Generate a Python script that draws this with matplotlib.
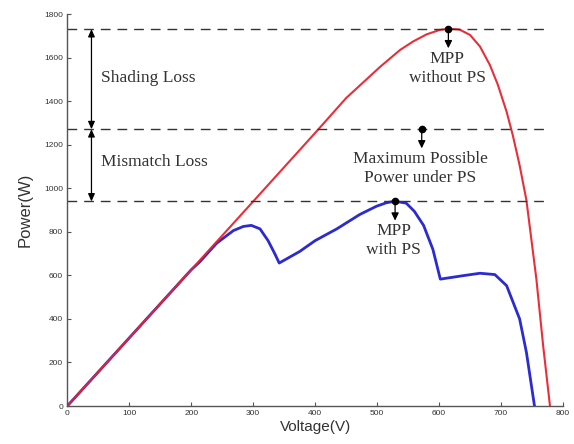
import matplotlib
matplotlib.use("Agg")
import matplotlib.pyplot as plt

# Data
red_v = [0, 100, 200, 300, 400, 450, 505, 537, 558, 580, 601, 615, 633, 650, 666, 682, 695, 709, 719, 730,
         741, 757, 768, 779]
red_p = [0, 313, 626, 940, 1255, 1415, 1559, 1636, 1675, 1708, 1728, 1734, 1730, 1705, 1652, 1567, 1475, 1352,
         1244, 1106, 945, 584, 276, 0]

blue_v = [0, 100, 200, 214, 241, 268, 284, 297, 311, 324, 335, 342, 375, 400, 435, 472, 499, 515, 529, 547,
          560, 575, 590, 602, 639, 666, 690, 709, 730, 741, 754]
blue_p = [0, 313, 626, 663, 748, 806, 825, 830, 814, 760, 699, 657, 710, 760, 814, 880, 918, 934, 941, 932,
          895, 830, 720, 583, 599, 610, 604, 553, 400, 246, 0]

level_mpp = 1732
level_possible = 1272
level_ps = 940
level_ends = [776, 770, 770]

points_v = [615, 572, 529]
points_p = [level_mpp, level_possible, level_ps]
point_labels = ["MPP\nwithout PS", "Maximum Possible\nPower under PS", "MPP\nwith PS"]

loss_labels = ["Shading Loss", "Mismatch Loss"]

fig = plt.figure(figsize=(5.74, 4.44), dpi=100)
ax = fig.add_axes([67.3 / 574, 38 / 444, (563 - 67.3) / 574, (406.7 - 15) / 444])

ax.plot(blue_v, blue_p, color="#2b2bd2", lw=2.0, solid_joinstyle="round", solid_capstyle="round")
ax.plot(red_v, red_p, color="#e8232f", lw=1.5, solid_joinstyle="round", alpha=0.95)

for lvl, end in zip([level_mpp, level_possible, level_ps], level_ends):
    ax.plot([0, end], [lvl, lvl], color="#333333", lw=1.0, dashes=(7, 5))

# double arrows for losses
arrow_v = 39
for (top, bot) in [(level_mpp, level_possible), (level_possible, level_ps)]:
    ax.annotate("", xy=(arrow_v, bot), xytext=(arrow_v, top),
                arrowprops=dict(arrowstyle="<|-|>,head_length=0.45,head_width=0.2",
                                color="black", lw=0.9, shrinkA=0, shrinkB=0))
ax.text(54, 1505, loss_labels[0], family="Liberation Serif", fontsize=12.5,
        color="#333333", va="center", ha="left")
ax.text(54, 1122, loss_labels[1], family="Liberation Serif", fontsize=12.5,
        color="#333333", va="center", ha="left")

for v, p, lab in zip(points_v, points_p, point_labels):
    ax.plot([v], [p], "o", color="black", ms=4.5)
    ax.annotate("", xy=(v, p - 88), xytext=(v, p),
                arrowprops=dict(arrowstyle="-|>,head_length=0.45,head_width=0.22",
                                color="black", lw=0.9, shrinkA=0, shrinkB=0))
    ax.text(v - 2, p - 100, lab, family="Liberation Serif", fontsize=12.5,
            color="#333333", ha="center", va="top", linespacing=1.25)

ax.set_xlim(0, 800)
ax.set_ylim(0, 1800)
ax.set_xticks(range(0, 801, 100))
ax.set_yticks(range(0, 1801, 200))
for s in ["top", "right"]:
    ax.spines[s].set_visible(False)
for s in ["left", "bottom"]:
    ax.spines[s].set_color("#555555")
    ax.spines[s].set_linewidth(1.0)
ax.tick_params(direction="in", length=3, width=0.8, color="#555555",
               labelsize=6, labelcolor="#333333", pad=3)
for lab in ax.get_xticklabels() + ax.get_yticklabels():
    lab.set_family("Liberation Sans")

ax.set_xlabel("Voltage(V)", family="Liberation Sans", fontsize=11, color="#333333", labelpad=2)
ax.set_ylabel("Power(W)", family="Liberation Sans", fontsize=12, color="#333333", labelpad=8)

fig.savefig("out.png", dpi=100)
